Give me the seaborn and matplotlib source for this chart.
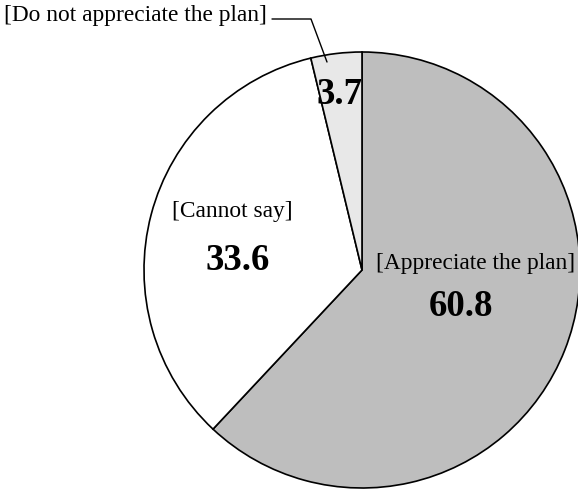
import matplotlib
matplotlib.use('Agg')
import seaborn as sns
from matplotlib import pyplot as plt

# === DATA ===
categories = ['[Appreciate the plan]', '[Cannot say]', '[Do not appreciate the plan]']
values = [60.8, 33.6, 3.7]
value_labels = ['60.8', '33.6', '3.7']
colors = ['#bebebe', '#ffffff', '#e8e8e8']

sns.set_style('white')
plt.rcParams['font.family'] = ['Liberation Serif', 'TeX Gyre Termes', 'DejaVu Serif']
plt.rcParams['text.color'] = 'black'

W, H = 578, 492
CX, CY, R = 362, 270, 218  # pie centre / radius in pixels


def px(x, y):
    # pixel (from top-left) -> data units where pie radius = 1
    return (x - CX) / R, (CY - y) / R


fig = plt.figure(figsize=(W / 100, H / 100), dpi=100)
ax = fig.add_axes([0, 0, 1, 1])
ax.pie(values, colors=colors, startangle=90, counterclock=False,
       wedgeprops=dict(edgecolor='black', linewidth=1.2))
x0, y1 = px(0, 0)
x1, y0 = px(W, H)
ax.set_xlim(x0, x1)
ax.set_ylim(y0, y1)
ax.set_aspect('equal')
ax.axis('off')

# category labels
LBL, NUM = 16.8, 26.5
ax.text(*px(476, 263), categories[0], fontsize=LBL, ha='center', va='center')
ax.text(*px(461, 307), value_labels[0], fontsize=NUM, fontweight='bold',
        ha='center', va='center')
ax.text(*px(232, 212), categories[1], fontsize=LBL, ha='center', va='center')
ax.text(*px(238, 260), value_labels[1], fontsize=NUM, fontweight='bold',
        ha='center', va='center')
ax.text(*px(340, 94), value_labels[2], fontsize=NUM, fontweight='bold',
        ha='center', va='center')
ax.text(*px(4, 16), categories[2], fontsize=LBL, ha='left', va='center')

# leader line for the small slice
pts = [px(272, 19), px(311, 19), px(327, 62)]
ax.plot([p[0] for p in pts], [p[1] for p in pts], color='black', linewidth=1)

plt.savefig('out.png', dpi=100)
